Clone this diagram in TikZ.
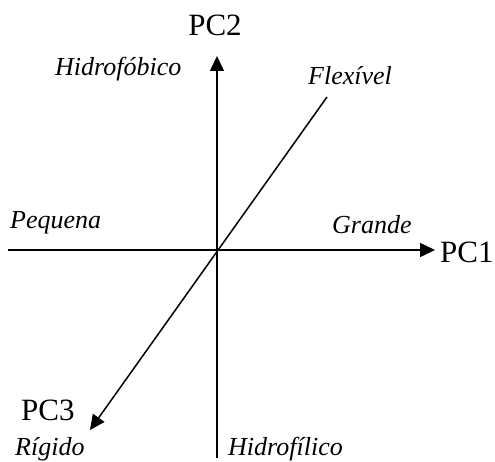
\documentclass[tikz,border=0pt]{standalone}
\usepackage{fontspec}
\setmainfont{Liberation Serif}
\usetikzlibrary{arrows.meta}

\begin{document}
\begin{tikzpicture}[x=1pt,y=1pt,
    axis/.style={line width=1.5pt, -{Triangle[length=15pt,width=14pt]}},
    pclabel/.style={inner sep=0pt, font=\fontsize{31}{31}\selectfont},
    poslabel/.style={inner sep=0pt, font=\fontsize{26}{26}\selectfont\itshape}]
    \useasboundingbox (-217,-211) rectangle (278,250);

    % axes
    \coordinate (O) at (0,0);
    \coordinate (west) at (-209,0);
    \coordinate (east) at (218,0);
    \coordinate (south) at (0,-208);
    \coordinate (north) at (0,194);
    \coordinate (back) at (110,153);
    \coordinate (front) at (-127,-180);
    \draw[axis] (west) -- (east);
    \draw[axis] (south) -- (north);
    \draw[axis] (back) -- (front);

    % axis names
    \node[pclabel, anchor=base west] (pc1) at (223,-12) {PC1};
    \node[pclabel, anchor=base] (pc2) at (-2,214) {PC2};
    \node[pclabel, anchor=base west] (pc3) at (-196,-170) {PC3};

    % PC1: size
    \node[poslabel, anchor=base west] (small) at (-207,22) {Pequena};
    \node[poslabel, anchor=base west] (large) at (115,17) {Grande};

    % PC2: hydrophobicity
    \node[poslabel, anchor=base west] (phobic) at (-162,175) {Hidrofóbico};
    \node[poslabel, anchor=base west] (philic) at (11,-205) {Hidrofílico};

    % PC3: flexibility
    \node[poslabel, anchor=base west] (flex) at (91,165) {Flexível};
    \node[poslabel, anchor=base west] (rigid) at (-202,-205) {Rígido};
\end{tikzpicture}
\end{document}
